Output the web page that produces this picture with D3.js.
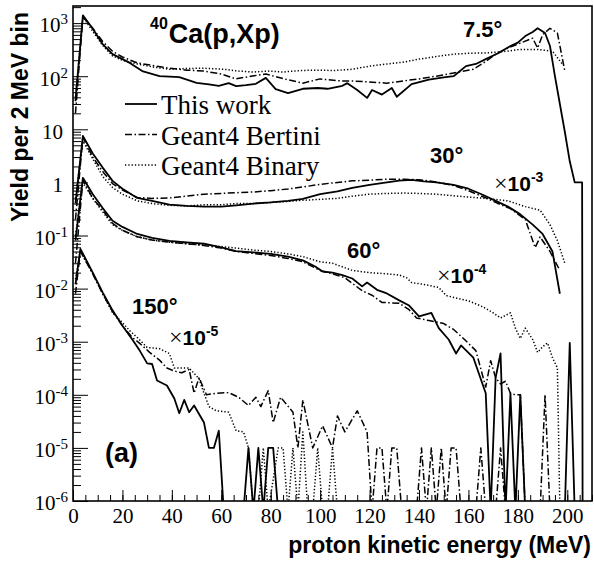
<!DOCTYPE html>
<html>
<head>
<meta charset="utf-8">
<script src="https://cdn.jsdelivr.net/npm/d3@7"></script>
<style>
  body { margin: 0; background: #fff; }
  svg { display: block; }
</style>
</head>
<body>
<svg id="chart" width="594" height="566"></svg>
<script>
// [energy MeV, yield as plotted]; 0 = empty bin (drawn down to the frame)
// 7.5 deg
var work7 = [[1,34],[4,1400],[8,780],[12,400],[16,260],[20,210],[23,178],[28,125],[35,100],[43,96],[50,75],[55,70],[59,66],[63,74],[66,65],[70,68],[74,72],[78,93],[82,57],[87,48],[93,58],[99,60],[103,58],[109,66],[111,74],[115,55],[119,39],[121,55],[125,45],[129,60],[131,41],[137,71],[144,86],[150,95],[154,100],[159,155],[163,170],[167,210],[172,270],[177,370],[180,430],[183,570],[186,680],[188,800],[191,650],[193,370],[195,100],[197,30],[199,9],[201,2.5],[203,1],[206,1],[206.2,0]];
var bert7 = [[1,20],[4,1300],[8,800],[12,450],[16,295],[20,230],[26,178],[32,160],[39,141],[46,130],[53,125],[60,110],[66,89],[72,100],[78,110],[85,90],[93,74],[100,89],[107,82],[113,81],[120,78],[127,74],[134,82],[140,89],[147,100],[154,115],[162,135],[167,190],[171,260],[176,340],[181,420],[186,520],[188,340],[190,600],[193,800],[196,650],[199,125]];
var bin7 = [[1,40],[4,1300],[8,700],[12,380],[16,240],[20,200],[26,170],[32,150],[39,135],[46,140],[53,141],[61,135],[67,125],[73,120],[79,125],[85,120],[92,128],[99,130],[106,128],[113,135],[120,155],[127,170],[134,185],[140,210],[147,235],[154,260],[160,270],[167,275],[174,290],[181,320],[188,320],[194,295],[198,170]];
// 30 deg (x1e-3)
var work30 = [[1,0.4],[4,7.5],[8,3.5],[12,1.9],[16,1.07],[20,0.76],[26,0.51],[32,0.45],[39,0.38],[46,0.36],[53,0.35],[60,0.35],[66,0.37],[73,0.4],[80,0.42],[87,0.45],[93,0.49],[100,0.6],[107,0.68],[113,0.79],[120,0.9],[127,1.0],[132,1.08],[137,1.12],[142,1.05],[147,1.0],[154,0.9],[160,0.76],[166,0.58],[171,0.45],[176,0.35],[181,0.25],[186,0.16],[190,0.107],[194,0.05],[197,0.008]];
var bert30 = [[1,0.2],[4,7],[8,3],[12,1.6],[16,0.95],[20,0.72],[26,0.52],[32,0.5],[39,0.51],[46,0.55],[53,0.6],[60,0.62],[66,0.64],[73,0.66],[80,0.7],[87,0.75],[93,0.82],[100,0.92],[107,1.0],[113,1.07],[120,1.1],[127,1.15],[134,1.15],[140,1.12],[147,1.02],[154,0.87],[160,0.7],[167,0.51],[172,0.4],[177,0.32],[183,0.2],[187,0.059],[189,0.094],[193,0.05],[197,0.022]];
var bin30 = [[1,0.5],[4,6],[8,2.8],[12,1.3],[16,0.8],[20,0.6],[26,0.45],[32,0.4],[39,0.37],[46,0.36],[53,0.38],[60,0.38],[66,0.4],[73,0.4],[80,0.42],[87,0.44],[93,0.46],[100,0.48],[107,0.5],[113,0.55],[120,0.6],[127,0.62],[134,0.63],[140,0.62],[147,0.6],[154,0.56],[160,0.53],[167,0.5],[176,0.45],[183,0.35],[189,0.3],[193,0.16],[196,0.08],[199,0.03]];
// 60 deg (x1e-4)
var work60 = [[1,0.08],[4,1.22],[8,0.6],[12,0.33],[16,0.19],[20,0.145],[26,0.107],[32,0.09],[39,0.079],[46,0.074],[53,0.07],[60,0.06],[66,0.051],[73,0.048],[80,0.045],[87,0.04],[93,0.034],[98,0.026],[101,0.021],[105,0.02],[109,0.018],[113,0.0155],[117,0.011],[119,0.013],[123,0.0095],[127,0.0081],[132,0.006],[136,0.0048],[140,0.003],[145,0.0035],[148,0.0018],[152,0.0011],[155,6e-4],[157,8.5e-4],[162,5e-4],[167,1.07e-4],[169,0],[171,2.1e-4],[173,6e-4],[175,0],[177,1.07e-4],[179,0],[181,1e-4],[183,0],[199,0],[201,9.5e-4],[203,0],[209,0]];
var bert60 = [[1,0.03],[4,1.1],[8,0.5],[12,0.3],[16,0.17],[20,0.125],[26,0.095],[32,0.082],[39,0.075],[46,0.07],[53,0.065],[60,0.058],[66,0.05],[73,0.046],[80,0.042],[87,0.037],[93,0.032],[100,0.022],[105,0.019],[110,0.016],[117,0.0091],[121,0.0075],[125,0.0055],[132,0.0053],[136,0.004],[139,0.0028],[144,0.0025],[150,0.0022],[154,0.0017],[158,0.00115],[163,6.8e-4],[167,1.4e-4],[169,4.4e-4],[171,2.1e-4],[173,1.6e-4],[175,1.8e-4],[177,1.07e-4],[179,1e-4],[181,1e-4],[183,0],[189,0],[191,1e-4],[193,0]];
var bin60 = [[1,0.1],[4,1.0],[8,0.5],[12,0.28],[16,0.16],[20,0.125],[26,0.095],[32,0.082],[39,0.075],[46,0.07],[53,0.066],[60,0.062],[66,0.058],[73,0.053],[80,0.05],[87,0.045],[93,0.04],[100,0.032],[105,0.03],[113,0.022],[120,0.02],[127,0.019],[132,0.018],[135,0.016],[137,0.013],[142,0.012],[148,0.0105],[151,0.0074],[156,0.0065],[160,0.0059],[166,0.0045],[170,0.0035],[173,0.0028],[177,0.0035],[179,0.0018],[181,0.00115],[183,0.0018],[186,0.0011],[188,6.3e-4],[190,8e-4],[192,9.5e-4],[194,5e-4],[196,3.2e-4],[197,0]];
// 150 deg (x1e-5)
var work150 = [[1,0.012],[3,0.056],[8,0.02],[12,0.0085],[16,0.0039],[20,0.002],[24,0.0011],[27,6.8e-4],[30,3.9e-4],[32,3.8e-4],[34,1.86e-4],[38,1.5e-4],[41,8.5e-5],[43,4.5e-5],[45,8e-5],[47,4.7e-5],[49,6.3e-5],[53,3e-5],[55,1e-5],[57,1e-5],[59,2.1e-5],[61,0],[69,0],[71,1e-5],[73,0],[75,1e-5],[77,0],[79,1e-5],[81,1e-5],[83,0],[209,0]];
var bert150 = [[1,0.008],[3,0.05],[8,0.019],[12,0.008],[16,0.0037],[20,0.002],[24,0.0012],[27,9.3e-4],[31,6.3e-4],[35,4.5e-4],[38,3.2e-4],[41,2.8e-4],[44,2.6e-4],[47,3e-4],[49,1.07e-4],[51,2.1e-4],[54,1e-4],[58,1.07e-4],[63,1.1e-4],[67,9e-5],[71,6.3e-5],[74,9e-5],[76,6e-5],[79,1.2e-4],[81,3e-5],[84,9e-5],[89,4.7e-5],[91,1e-5],[93,8e-5],[97,1e-5],[101,2.6e-5],[105,1e-5],[107,4e-5],[110,2e-5],[115,5e-5],[119,2e-5],[121,0],[123,1e-5],[125,1e-5],[127,0],[129,1e-5],[131,1e-5],[133,0],[139,0],[141,1e-5],[143,0],[145,1e-5],[147,0],[149,1e-5],[151,0],[153,1e-5],[155,1e-5],[157,0],[163,0],[165,1e-5],[167,0],[171,0],[173,1e-5],[175,0],[209,0]];
var bin150 = [[1,0.015],[3,0.05],[8,0.019],[12,0.008],[16,0.0035],[20,0.0023],[23,0.0016],[26,0.0012],[30,7.8e-4],[35,7.4e-4],[39,6e-4],[41,3.2e-4],[44,3.2e-4],[47,3.2e-4],[51,2e-4],[53,1.07e-4],[55,6e-5],[58,5e-5],[63,4.7e-5],[66,2.1e-5],[69,2e-5],[71,1e-5],[73,0],[75,0],[77,1e-5],[79,0],[83,1e-5],[85,1e-5],[87,0],[89,1e-5],[91,0],[93,2e-5],[95,0],[97,0],[99,1e-5],[101,0],[103,0],[105,1e-5],[107,0],[209,0]];

var xTicks = [0,20,40,60,80,100,120,140,160,180,200];
var yDecades = [1e-6,1e-5,1e-4,1e-3,1e-2,1e-1,1,10,100,1000];
var yLabels = [["10","-6"],["10","-5"],["10","-4"],["10","-3"],["10","-2"],["10","-1"],["1",""],["10",""],["10","2"],["10","3"]];
var legendNames = ["This work","Geant4 Bertini","Geant4 Binary"];

var SERIF = "'Liberation Serif', 'DejaVu Serif', serif";
var SANS = "'Liberation Sans', Arial, sans-serif";

var styles = [
  {w:1.8, dash:null},
  {w:1.5, dash:"7,2.5,1.5,2.5"},
  {w:1.5, dash:"1.3,2"}
];

var svg = d3.select("#chart");
var L = 73, R = 592, T = 6, B = 501;

var x = d3.scaleLinear().domain([0,210]).range([L,R]);
var y = d3.scaleLog().domain([1e-6,2100]).range([B,T]);

svg.append("rect").attr("width",594).attr("height",566).attr("fill","#fff");

svg.append("clipPath").attr("id","plotclip")
  .append("rect").attr("x",L).attr("y",T).attr("width",R-L).attr("height",B-T);

var line = d3.line()
  .x(function(d){ return x(d[0]); })
  .y(function(d){ return d[1] > 0 ? y(d[1]) : B + 10; });

var curves = [
  [work7,0],[bert7,1],[bin7,2],
  [work30,0],[bert30,1],[bin30,2],
  [work60,0],[bert60,1],[bin60,2],
  [work150,0],[bert150,1],[bin150,2]
];

var g = svg.append("g").attr("clip-path","url(#plotclip)");
curves.forEach(function(c){
  var s = styles[c[1]];
  g.append("path")
    .attr("d", line(c[0]))
    .attr("fill","none")
    .attr("stroke","#000")
    .attr("stroke-width", s.w)
    .attr("stroke-dasharray", s.dash)
    .attr("stroke-linejoin","round");
});

// x axis
var xMinor = d3.range(0,211,5);
svg.append("g").attr("transform","translate(0,"+B+")")
  .call(d3.axisBottom(x).tickValues(xMinor).tickSize(-6).tickFormat(""))
  .call(function(a){ a.select(".domain").remove(); });
var xa = svg.append("g").attr("transform","translate(0,"+B+")")
  .call(d3.axisBottom(x).tickValues(xTicks).tickSize(-11).tickPadding(7).tickFormat(d3.format("d")));
xa.select(".domain").remove();
xa.attr("font-family",SERIF).attr("font-size",21);
xa.selectAll("text").style("font-family",SERIF).style("font-size","21px").attr("fill","#000");

// y axis
var yMinor = [];
yDecades.forEach(function(d){ for (var k=2;k<10;k++) { if (d*k < 2100) yMinor.push(d*k); } });
svg.append("g").attr("transform","translate("+L+",0)")
  .call(d3.axisLeft(y).tickValues(yMinor).tickSize(-8).tickFormat(""))
  .call(function(a){ a.select(".domain").remove(); });
var ya = svg.append("g").attr("transform","translate("+L+",0)")
  .call(d3.axisLeft(y).tickValues(yDecades).tickSize(-15).tickPadding(5).tickFormat(""));
ya.select(".domain").remove();
ya.attr("font-family",SERIF).attr("font-size",21);
ya.selectAll(".tick").each(function(d,i){
  var lab = yLabels[i];
  var t = d3.select(this).select("text")
    .style("font-family",SERIF).style("font-size","21px").attr("fill","#000")
    .attr("dy","0.42em");
  if (lab[1] === "") {
    t.attr("x",-10).text(lab[0]);
  } else {
    t.attr("x",-5);
    t.append("tspan").text(lab[0]);
    t.append("tspan").style("font-size","15px").attr("dy",-8).text(lab[1]);
  }
});

// frame
svg.append("rect").attr("x",L).attr("y",T).attr("width",R-L).attr("height",B-T)
  .attr("fill","none").attr("stroke","#000").attr("stroke-width",1.6);

// axis titles
svg.append("text").style("font-family",SANS).style("font-weight","bold").style("font-size","23px")
  .attr("text-anchor","end").attr("x",591).attr("y",553)
  .text("proton kinetic energy (MeV)");
svg.append("text").style("font-family",SANS).style("font-weight","bold").style("font-size","23px")
  .attr("text-anchor","end").attr("transform","translate(28,12) rotate(-90)")
  .text("Yield per 2 MeV bin");

// legend
legendNames.forEach(function(n,i){
  var ly = 104 + i*30.5;
  var s = styles[i];
  svg.append("line").attr("x1",125).attr("x2",157).attr("y1",ly).attr("y2",ly)
    .attr("stroke","#000").attr("stroke-width",s.w).attr("stroke-dasharray",s.dash);
  svg.append("text").style("font-family",SERIF).style("font-size","27px")
    .attr("x",161).attr("y",ly+10).text(n);
});

// annotations
var title = svg.append("text").style("font-family",SANS).style("font-weight","bold")
  .attr("x",150).attr("y",43);
title.append("tspan").style("font-size","16px").attr("dy",-14).text("40");
title.append("tspan").style("font-size","27px").attr("dy",14).attr("dx",1).text("Ca(p,Xp)");

function lbl(tx, ty, s, size) {
  svg.append("text").style("font-family",SANS).style("font-weight","bold")
    .style("font-size",(size||22)+"px")
    .attr("x",tx).attr("y",ty).text(s);
}
lbl(463,37,"7.5°");
lbl(430,163,"30°");
lbl(347,258,"60°");
lbl(132,314,"150°");
lbl(105,462,"(a)",27);

function factor(tx, ty, e) {
  var t = svg.append("text").attr("x",tx).attr("y",ty);
  t.append("tspan").style("font-family",SERIF).style("font-size","24px").text("×");
  t.append("tspan").style("font-family",SANS).style("font-weight","bold").style("font-size","21px").text("10");
  t.append("tspan").style("font-family",SANS).style("font-weight","bold").style("font-size","14px").attr("dy",-9).text(e);
}
factor(494,191,"-3");
factor(437,283,"-4");
factor(169,345,"-5");
</script>
</body>
</html>
